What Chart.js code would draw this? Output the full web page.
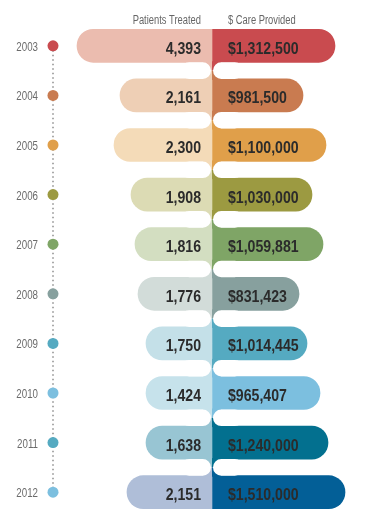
<!DOCTYPE html>
<html>
<head>
<meta charset="utf-8">
<script src="https://cdn.jsdelivr.net/npm/chart.js@4/dist/chart.umd.min.js"></script>
<style>
  html, body { margin: 0; background: #fff; overflow: hidden; }
  #wrap { position: relative; width: 373px; height: 517px; }
</style>
</head>
<body>
<div id="wrap"><canvas id="chart"></canvas></div>
<script>
const years = ['2003', '2004', '2005', '2006', '2007', '2008', '2009', '2010', '2011', '2012'];
const patients = [4393, 2161, 2300, 1908, 1816, 1776, 1750, 1424, 1638, 2151];
const care = [1312500, 981500, 1100000, 1030000, 1059881, 831423, 1014445, 965407, 1240000, 1510000];

// bar lengths as drawn in the infographic (not to scale with the numbers)
const patientBar = [135, 92, 98, 81, 77, 74, 66, 66, 66, 85];
const careBar = [123, 91, 114, 100, 111, 87, 95, 108, 116, 133];

const patientColors = ['#ebbcaf', '#eecfb5', '#f4dbb8', '#dcdbb4', '#d3dec1', '#d2dcd9', '#c4e0e8', '#c6e2eb', '#98c5d3', '#afbed8'];
const careColors = ['#c94b4f', '#c97b50', '#e09f4a', '#9c9a41', '#7fa566', '#87a09e', '#55aac1', '#7cbfdf', '#03708f', '#035f97'];
const dotColors = ['#c94b4f', '#c97b50', '#e09f4a', '#9c9a41', '#7fa566', '#87a09e', '#55aac1', '#7cbfdf', '#55aac1', '#7cbfdf'];

const sans = '"Liberation Sans", Arial, sans-serif';
const dotX = -159;

// draw text squeezed sideways so it looks like a condensed face
function squeezed(ctx, text, x, y, align, sx) {
  ctx.save();
  ctx.translate(x, y);
  ctx.scale(sx, 1);
  ctx.textAlign = align;
  ctx.fillText(text, 0, 0);
  ctx.restore();
}

const overlay = {
  id: 'overlay',
  afterDatasetsDraw(chart) {
    const ctx = chart.ctx;
    const cx = chart.scales.x.getPixelForValue(0);
    const yScale = chart.scales.y;
    const left = chart.getDatasetMeta(1).data;
    ctx.save();
    // little connectors between rows at the centre
    for (let i = 0; i < left.length - 1; i++) {
      const top = left[i].y + left[i].height / 2;
      const bot = left[i + 1].y - left[i + 1].height / 2;
      const mid = (top + bot) / 2;
      const r = 9;
      ctx.fillStyle = patientColors[i]; ctx.fillRect(cx - r, top - 1, r, mid - top + 1);
      ctx.fillStyle = careColors[i]; ctx.fillRect(cx, top - 1, r, mid - top + 1);
      ctx.fillStyle = patientColors[i + 1]; ctx.fillRect(cx - r, mid, r, bot - mid + 1);
      ctx.fillStyle = careColors[i + 1]; ctx.fillRect(cx, mid, r, bot - mid + 1);
      ctx.fillStyle = '#fff';
      ctx.beginPath();
      ctx.roundRect(cx - 1 - 30, top, 30, bot - top, (bot - top) / 2);
      ctx.roundRect(cx + 1, top, 30, bot - top, (bot - top) / 2);
      ctx.fill();
    }
    ctx.textBaseline = 'alphabetic';
    // values
    ctx.font = 'bold 17px ' + sans;
    ctx.fillStyle = '#2b2b2b';
    left.forEach((bar, i) => {
      squeezed(ctx, patients[i].toLocaleString('en-US'), cx - 11, bar.y + 8, 'right', 0.83);
      squeezed(ctx, '$' + care[i].toLocaleString('en-US'), cx + 16, bar.y + 8, 'left', 0.83);
    });
    // years
    ctx.font = '13px ' + sans;
    ctx.fillStyle = '#6b6b6b';
    years.forEach((yr, i) => {
      squeezed(ctx, yr, 38, yScale.getPixelForValue(i) + 5, 'right', 0.75);
    });
    // headers
    ctx.font = '12px ' + sans;
    ctx.fillStyle = '#666';
    squeezed(ctx, 'Patients Treated', cx - 11, 24, 'right', 0.78);
    squeezed(ctx, '$ Care Provided', cx + 16, 24, 'left', 0.78);
    ctx.restore();
  }
};

new Chart(document.getElementById('chart'), {
  type: 'bar',
  data: {
    labels: years,
    datasets: [
      {
        type: 'line',
        indexAxis: 'y',
        data: years.map(y => ({ x: dotX, y: y })),
        borderColor: '#8c8c8c',
        borderWidth: 1.5,
        borderDash: [1.5, 3],
        pointRadius: 5.5,
        pointBorderWidth: 0,
        pointBackgroundColor: dotColors,
        order: 0
      },
      {
        label: 'Patients Treated',
        data: patientBar.map(v => -v),
        backgroundColor: patientColors,
        barThickness: 33,
        grouped: false,
        borderRadius: { topLeft: 17, bottomLeft: 17 }
      },
      {
        label: '$ Care Provided',
        data: careBar,
        backgroundColor: careColors,
        barThickness: 33,
        grouped: false,
        borderRadius: { topRight: 17, bottomRight: 17 }
      }
    ]
  },
  options: {
    indexAxis: 'y',
    responsive: true,
    maintainAspectRatio: false,
    animation: false,
    layout: { autoPadding: false, padding: { top: 21, left: 45, right: 0, bottom: 0 } },
    plugins: { legend: { display: false }, tooltip: { enabled: false } },
    scales: {
      x: { display: false, min: -167, max: 161 },
      y: { display: false }
    }
  },
  plugins: [overlay]
});
</script>
</body>
</html>
